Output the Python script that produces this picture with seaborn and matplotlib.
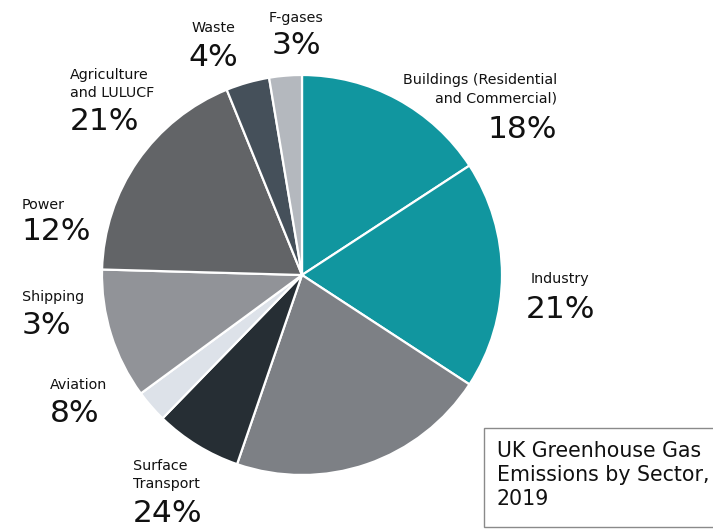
import matplotlib
matplotlib.use("Agg")
import matplotlib.pyplot as plt
from matplotlib.patches import Rectangle
import seaborn as sns

# UK greenhouse gas emissions by sector, 2019 (percent, as printed on each label)
sectors = ["Buildings (Residential\nand Commercial)", "Industry", "Surface\nTransport",
           "Aviation", "Shipping", "Power", "Agriculture\nand LULUCF", "Waste", "F-gases"]
shares = [18, 21, 24, 8, 3, 12, 21, 4, 3]
colors = ["#11969f", "#11969f", "#7d8085", "#262e34", "#dde2e9",
          "#919398", "#626467", "#45505a", "#b4b8be"]

sns.set_theme(style="white")
plt.rcParams["font.family"] = ["DejaVu Sans"]

W, H = 713, 530
fig = plt.figure(figsize=(W / 100, H / 100), dpi=100)

# pie occupies a square region: centre (302, 275) px, radius 200 px
cx, cy, r = 302, 275, 200
pad = 1.01
ax = fig.add_axes([(cx - r * pad) / W, (H - cy - r * pad) / H, 2 * r * pad / W, 2 * r * pad / H])
ax.pie(shares, colors=colors, startangle=90, counterclock=False,
       wedgeprops=dict(edgecolor="white", linewidth=1.6))
ax.set_xlim(-pad, pad)
ax.set_ylim(-pad, pad)
ax.set_aspect("equal")
ax.axis("off")

# label placement in pixel coordinates: (x, name_y, pct_y, horizontal alignment)
placement = [
    (557, 89, 130, "right"),
    (560, 279, 309, "center"),
    (133, 475, 514, "left"),
    (50, 385, 414, "left"),
    (22, 297, 326, "left"),
    (22, 205, 232, "left"),
    (70, 84, 122, "left"),
    (213, 28, 58, "center"),
    (296, 18, 46, "center"),
]

for name, val, (x, ny, py, ha) in zip(sectors, shares, placement):
    fig.text(x / W, 1 - ny / H, name, ha=ha, va="center", fontsize=10.3,
             color="#111111", linespacing=1.4,
             multialignment="right" if ha == "right" else "left")
    fig.text(x / W, 1 - py / H, f"{val}%", ha=ha, va="center", fontsize=22.5,
             color="#111111")

# boxed title in the lower right corner
fig.patches.append(Rectangle((484 / W, 3 / H), 0.5, 99 / H, transform=fig.transFigure,
                             facecolor="white", edgecolor="#8a8a8a", linewidth=1.0))
fig.text(497 / W, 1 - 475 / H, "UK Greenhouse Gas\nEmissions by Sector,\n2019",
         ha="left", va="center", fontsize=14.8, color="#111111", linespacing=1.25)

fig.savefig("out.png", dpi=100, facecolor="white")
